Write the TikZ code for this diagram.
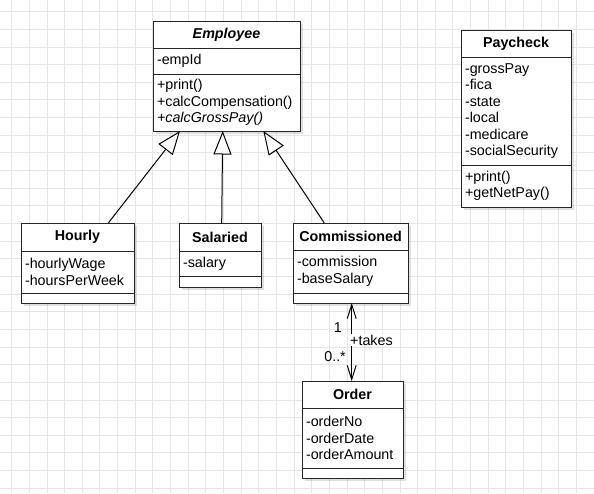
\documentclass[tikz,border=0pt]{standalone}
\usepackage{fontspec}
\setmainfont{Liberation Sans}
\usetikzlibrary{positioning, arrows.meta, shadows}

\begin{document}
\begin{tikzpicture}[
    x=1pt, y=-1pt,
    node distance=0pt,
    box/.style={rectangle, draw=black!85, fill=white, line width=1pt, outer sep=0pt,
                drop shadow={shadow xshift=2.5pt, shadow yshift=-2.5pt, opacity=0.12, fill=black}},
    clsname/.style={box, font=\fontsize{14.3}{16.5}\selectfont\bfseries,
                    align=center, inner sep=0pt},
    members/.style={box, font=\fontsize{14.3}{16.5}\selectfont,
                    align=left, inner xsep=4pt, inner ysep=2pt},
    inherit/.style={-{Triangle[length=23.5pt, width=18pt, fill=white]}, line width=1pt},
    assoc/.style={{Straight Barb[length=14pt, width=9pt]}-{Straight Barb[length=14pt, width=9pt]},
                  line width=1pt},
    mult/.style={font=\fontsize{14.3}{16.5}\selectfont, inner sep=1pt},
    gridline/.style={line width=1pt, black!10}
  ]

    % Paper and grid
    \fill[white] (0,0) rectangle (594,493);
    \useasboundingbox (0,0) rectangle (594,493);
    \foreach \i in {0,...,33}
      \draw[gridline] ({11.7+17.65*\i},0) -- ({11.7+17.65*\i},493);
    \foreach \j in {0,...,27}
      \draw[gridline] (0,{11.7+17.65*\j}) -- (594,{11.7+17.65*\j});

    % Employee (abstract)
    \node[clsname, anchor=north west, minimum width=147pt, minimum height=27pt] (employee) at (153,21) {\textit{Employee}};
    \node[members, below=of employee, text width=139pt, minimum height=26pt] (employee-attrs) {-empId};
    \node[members, below=of employee-attrs, text width=139pt, minimum height=57pt] (employee-ops) {+print()\\+calcCompensation()\\\textit{+calcGrossPay()}};

    % Paycheck
    \node[clsname, anchor=north west, minimum width=110pt, minimum height=27pt] (paycheck) at (461,30) {Paycheck};
    \node[members, below=of paycheck, text width=102pt, minimum height=108pt] (paycheck-attrs) {-grossPay\\-fica\\-state\\-local\\-medicare\\-socialSecurity};
    \node[members, below=of paycheck-attrs, text width=102pt, minimum height=42pt] (paycheck-ops) {+print()\\+getNetPay()};

    % Hourly
    \node[clsname, anchor=north west, minimum width=113pt, minimum height=28pt] (hourly) at (21,223) {Hourly};
    \node[members, below=of hourly, text width=105pt, minimum height=42pt] (hourly-attrs) {-hourlyWage\\-hoursPerWeek};
    \node[members, below=of hourly-attrs, text width=105pt, minimum height=10pt] (hourly-ops) {};

    % Salaried
    \node[clsname, anchor=north west, minimum width=82pt, minimum height=28pt] (salaried) at (179,223) {Salaried};
    \node[members, below=of salaried, text width=74pt, minimum height=25pt] (salaried-attrs) {-salary};
    \node[members, below=of salaried-attrs, text width=74pt, minimum height=11pt] (salaried-ops) {};

    % Commissioned
    \node[clsname, anchor=north west, minimum width=115pt, minimum height=27pt] (commissioned) at (293,223) {Commissioned};
    \node[members, below=of commissioned, text width=107pt, minimum height=43pt] (commissioned-attrs) {-commission\\-baseSalary};
    \node[members, below=of commissioned-attrs, text width=107pt, minimum height=10pt] (commissioned-ops) {};

    % Order
    \node[clsname, anchor=north west, minimum width=101pt, minimum height=27pt] (order) at (302,381) {Order};
    \node[members, below=of order, text width=93pt, minimum height=60pt] (order-attrs) {-orderNo\\-orderDate\\-orderAmount};
    \node[members, below=of order-attrs, text width=93pt, minimum height=10pt] (order-ops) {};

    % Generalisations
    \draw[inherit] ([xshift=30.8pt]hourly.north) -- ([xshift=-46.5pt]employee-ops.south);
    \draw[inherit] ([xshift=1.7pt]salaried.north) -- ([xshift=-3.8pt]employee-ops.south);
    \draw[inherit] ([xshift=-26.2pt]commissioned.north) -- ([xshift=36.8pt]employee-ops.south);

    % Association
    \draw[assoc] ([xshift=1.2pt]commissioned-ops.south) -- ([xshift=-0.8pt]order.north);
    \node[mult, anchor=east] (mult-one) at (343,327.5) {1};
    \node[mult, anchor=west, fill=white] (takes) at (349,340) {+takes};
    \node[mult, anchor=east] (mult-many) at (347,357) {0..*};

  \end{tikzpicture}
\end{document}
